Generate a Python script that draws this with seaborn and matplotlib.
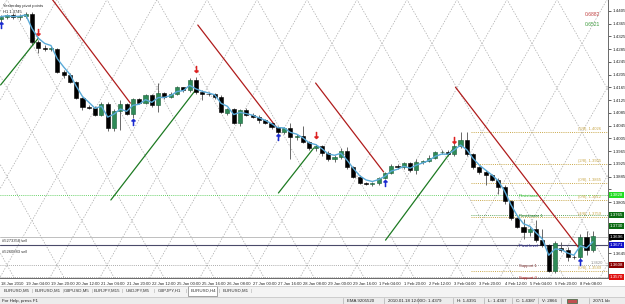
import numpy as np
import pandas as pd
import matplotlib.pyplot as plt
import matplotlib.transforms as mtrans
import seaborn as sns

# EURUSD H4, 18 Jan 2010 12:00 .. 8 Feb 2010 16:00
opens = [1.4379, 1.4387, 1.4392, 1.4385, 1.4390, 1.4396, 1.4308, 1.4290, 1.4287, 1.4285,
         1.4214, 1.4204, 1.4183, 1.4132, 1.4104, 1.4101, 1.4080, 1.4113, 1.4038, 1.4091,
         1.4113, 1.4083, 1.4128, 1.4116, 1.4141, 1.4110, 1.4148, 1.4135, 1.4145, 1.4165,
         1.4158, 1.4188, 1.4150, 1.4145, 1.4143, 1.4136, 1.4085, 1.4097, 1.4054, 1.4094,
         1.4079, 1.4073, 1.4062, 1.4054, 1.4041, 1.4026, 1.4038, 1.4010, 1.4013, 1.3995,
         1.3975, 1.3981, 1.3960, 1.3940, 1.3948, 1.3965, 1.3915, 1.3885, 1.3865, 1.3862,
         1.3865, 1.3882, 1.3897, 1.3919, 1.3914, 1.3927, 1.3906, 1.3931, 1.3935, 1.3944,
         1.3962, 1.3963, 1.3955, 1.3982, 1.4000, 1.3955, 1.3915, 1.3900, 1.3890, 1.3875,
         1.3853, 1.3808, 1.3755, 1.3728, 1.3712, 1.3722, 1.3688, 1.3670, 1.3588, 1.3660,
         1.3655, 1.3634, 1.3632, 1.3697, 1.3655]
highs = [1.4391, 1.4396, 1.4398, 1.4395, 1.4402, 1.4402, 1.4315, 1.4298, 1.4296, 1.4290,
         1.4220, 1.4210, 1.4186, 1.4135, 1.4110, 1.4106, 1.4120, 1.4118, 1.4097, 1.4126,
         1.4117, 1.4133, 1.4133, 1.4145, 1.4145, 1.4179, 1.4152, 1.4150, 1.4170, 1.4168,
         1.4195, 1.4198, 1.4156, 1.4152, 1.4148, 1.4140, 1.4100, 1.4100, 1.4098, 1.4100,
         1.4085, 1.4078, 1.4066, 1.4058, 1.4045, 1.4042, 1.4054, 1.4018, 1.4045, 1.3998,
         1.3987, 1.3985, 1.3965, 1.3952, 1.3975, 1.3978, 1.3920, 1.3890, 1.3870, 1.3870,
         1.3885, 1.3900, 1.3925, 1.3925, 1.3930, 1.3932, 1.3940, 1.3938, 1.3952, 1.3965,
         1.3970, 1.3968, 1.3992, 1.4025, 1.4025, 1.3958, 1.3918, 1.3905, 1.3895, 1.3880,
         1.3858, 1.3812, 1.3760, 1.3752, 1.3730, 1.3750, 1.3720, 1.3675, 1.3682, 1.3680,
         1.3665, 1.3640, 1.3705, 1.3715, 1.3715]
lows = [1.4367, 1.4380, 1.4381, 1.4378, 1.4384, 1.4298, 1.4273, 1.4280, 1.4278, 1.4210,
        1.4195, 1.4178, 1.4128, 1.4095, 1.4096, 1.4074, 1.4076, 1.4030, 1.4029, 1.4032,
        1.4078, 1.4070, 1.4112, 1.4112, 1.4104, 1.4088, 1.4130, 1.4132, 1.4142, 1.4152,
        1.4150, 1.4145, 1.4126, 1.4138, 1.4130, 1.4085, 1.4080, 1.4050, 1.4045, 1.4075,
        1.4068, 1.4055, 1.4050, 1.4035, 1.4010, 1.4020, 1.3941, 1.4000, 1.3990, 1.3970,
        1.3965, 1.3950, 1.3935, 1.3930, 1.3940, 1.3910, 1.3880, 1.3862, 1.3858, 1.3856,
        1.3858, 1.3878, 1.3893, 1.3910, 1.3908, 1.3900, 1.3895, 1.3925, 1.3930, 1.3940,
        1.3955, 1.3950, 1.3950, 1.3975, 1.3950, 1.3910, 1.3895, 1.3860, 1.3872, 1.3830,
        1.3800, 1.3750, 1.3725, 1.3690, 1.3700, 1.3680, 1.3665, 1.3585, 1.3583, 1.3650,
        1.3620, 1.3628, 1.3618, 1.3640, 1.3650]
closes = [1.4387, 1.4392, 1.4385, 1.4390, 1.4396, 1.4308, 1.4290, 1.4287, 1.4290, 1.4214,
          1.4204, 1.4183, 1.4132, 1.4104, 1.4101, 1.4080, 1.4113, 1.4038, 1.4091, 1.4113,
          1.4083, 1.4128, 1.4116, 1.4141, 1.4110, 1.4148, 1.4135, 1.4145, 1.4165, 1.4158,
          1.4188, 1.4150, 1.4145, 1.4143, 1.4136, 1.4088, 1.4097, 1.4054, 1.4094, 1.4079,
          1.4073, 1.4062, 1.4054, 1.4041, 1.4026, 1.4038, 1.4010, 1.4013, 1.3995, 1.3975,
          1.3981, 1.3960, 1.3940, 1.3948, 1.3965, 1.3915, 1.3885, 1.3865, 1.3862, 1.3865,
          1.3882, 1.3897, 1.3919, 1.3914, 1.3927, 1.3906, 1.3931, 1.3935, 1.3944, 1.3962,
          1.3963, 1.3955, 1.3982, 1.4000, 1.3955, 1.3915, 1.3900, 1.3890, 1.3875, 1.3853,
          1.3808, 1.3755, 1.3728, 1.3712, 1.3722, 1.3688, 1.3670, 1.3588, 1.3678, 1.3655,
          1.3634, 1.3632, 1.3697, 1.3655, 1.3700]

time_labels = ["18 Jan 2010", "19 Jan 04:00", "19 Jan 20:00", "20 Jan 12:00", "21 Jan 04:00",
               "21 Jan 20:00", "22 Jan 12:00", "25 Jan 00:00", "25 Jan 16:00", "26 Jan 08:00",
               "27 Jan 00:00", "27 Jan 16:00", "28 Jan 08:00", "29 Jan 00:00", "29 Jan 16:00",
               "1 Feb 04:00", "1 Feb 20:00", "2 Feb 12:00", "3 Feb 04:00", "3 Feb 20:00",
               "4 Feb 12:00", "5 Feb 04:00", "5 Feb 20:00", "8 Feb 08:00"]
price_ticks = [1.4405, 1.4365, 1.4325, 1.4285, 1.4245, 1.4205, 1.4165, 1.4125, 1.4085,
               1.4045, 1.4005, 1.3965, 1.3925, 1.3885, 1.3845, 1.3805, 1.3765, 1.3725,
               1.3685, 1.3645, 1.3605]

# signal arrows
sell_bars = [6, 31, 50, 72]
sell_prices = [1.4339, 1.4223, 1.4016, 1.4000]
buy_bars = [0, 21, 44, 61, 92]
buy_prices = [1.4361, 1.4057, 1.4010, 1.3865, 1.3617]

# trend lines (bar, price) -> (bar, price)
down_lines = [(8.25, 1.4440, 20.6, 1.4116), (31.3, 1.4361, 44.1, 1.4032),
              (50.0, 1.4179, 60.8, 1.3900), (72.2, 1.4166, 91.7, 1.3664)]
up_lines = [(0.0, 1.4173, 6.0, 1.4320), (17.5, 1.3812, 31.3, 1.4166),
            (44.1, 1.3834, 49.7, 1.3975), (61.1, 1.3686, 71.7, 1.3969)]

# level lines
murrey_values = [1.4026, 1.3925, 1.3865, 1.3812, 1.3759, 1.3589]
murrey_names = ["(3/8), 1.4026", "(2/8), 1.3925", "(0/8), 1.3865",
                "(0/8), 1.3812", "(4/8), 1.3759", "(0/8), 1.3589"]
pivot_names = ["Resistance", "Resistance 1", "Pivot level", "Support 1", "Support 2"]
pivot_values = [1.3828, 1.3765, 1.3671, 1.3608, 1.3570]
box_values = [1.3828, 1.3765, 1.3730, 1.3696, 1.3671, 1.3608, 1.3570]
box_colors = ["#22dd22", "#0b6b12", "#0b6b12", "#000000", "#1010c8", "#8b0000", "#e01010"]

tabs = ["EURUSD,M5", "EURUSD,M1", "GBPUSD,M5", "EURJPY,M15", "USDJPY,M5",
        "GBPJPY,H1", "EURUSD,H4", "EURUSD,M1"]
status_items = ["EMA 9205520", "2010.01.18 12:00", "O: 1.4379", "H: 1.4391",
                "L: 1.4367", "C: 1.4387", "V: 2866", "", "207/1 kb"]

sns.set_theme(style="white")
plt.rcParams['font.family'] = ['Liberation Sans', 'DejaVu Sans']
FS = 3.0
FS_UI = 3.2

W, H = 625, 304
CW, CH = 608, 278
PX_PER_PRICE = 3187.0

fig = plt.figure(figsize=(W / 100, H / 100), dpi=100)

# figure chrome in pixel coordinates
bg = fig.add_axes([0, 0, 1, 1], zorder=0)
bg.set_xlim(0, W)
bg.set_ylim(H, 0)
bg.axis('off')

# diagonal dashed lattice behind the chart
grid_ax = fig.add_axes([0, 1 - CH / H, CW / W, CH / H], zorder=1)
grid_ax.set_xlim(0, CW)
grid_ax.set_ylim(CH, 0)
grid_ax.axis('off')
slope = 1.77
for k in range(-12, 26):
    xc = 7 + 50 * k
    xs = np.array([xc - 400, xc + 400])
    for s in (slope, -slope):
        grid_ax.plot(xs, 265 + s * (xs - xc), color='#a8a8a8', lw=0.5,
                     ls=(0, (2, 2)))

ax = fig.add_axes([0, 1 - CH / H, CW / W, CH / H], zorder=2)
ax.set_facecolor('none')

bars = np.arange(len(opens))
o, h, l, c = map(np.array, (opens, highs, lows, closes))
up = c >= o

ax.vlines(bars, l, h, color='#505050', lw=0.6, zorder=3)
body_lo = np.minimum(o, c)
body_h = np.maximum(np.abs(c - o), 0.00006)
ax.bar(bars[up], body_h[up], bottom=body_lo[up], width=0.66, color='#2e8b57',
       edgecolor='#1b5e3a', linewidth=0.4, zorder=4)
ax.bar(bars[~up], body_h[~up], bottom=body_lo[~up], width=0.66, color='black',
       edgecolor='black', linewidth=0.4, zorder=4)

# moving average of closes
ema = pd.Series(closes).ewm(span=3).mean()
sns.lineplot(x=bars, y=ema.values, ax=ax, color='#5aaad8', lw=1.0, zorder=5)

for x0, y0, x1, y1 in down_lines:
    ax.plot([x0, x1], [y0, y1], color='#b01c1c', lw=0.9, zorder=3)
for x0, y0, x1, y1 in up_lines:
    ax.plot([x0, x1], [y0, y1], color='#1d7a22', lw=0.9, zorder=3)

ax.scatter(sell_bars, sell_prices, marker=r'$\downarrow$', s=22, color='#dd2020',
           linewidths=0.6, zorder=6, clip_on=False)
ax.scatter(buy_bars, buy_prices, marker=r'$\uparrow$', s=22, color='#1a2ad0',
           linewidths=0.6, zorder=6, clip_on=False)

xmin = -0.6 / 6.3
xmax = (CW - 0.6) / 6.3
ax.set_xlim(xmin, xmax)
ytop = 1.4405 + 11 / PX_PER_PRICE
ybot = 1.4405 - (CH - 11) / PX_PER_PRICE
ax.set_ylim(ybot, ytop)

# level lines
m_start = 74.6
for v, name in zip(murrey_values, murrey_names):
    ax.hlines(v, m_start, xmax, color='#c9a84a', lw=0.7, ls=(0, (1, 1.2)), zorder=2)
    ax.text(95.3, v + 0.0003, name, color='#c9a84a', fontsize=FS, ha='right',
            va='bottom', zorder=6)

ax.axhline(pivot_values[0], color='#36c236', lw=0.6, ls=(0, (1, 1.5)), zorder=2)
ax.hlines(pivot_values[1], m_start, xmax, color='#2c8a2c', lw=0.6, ls=(0, (1, 1.5)), zorder=2)
ax.axhline(1.3696, color='#b4b4b4', lw=0.6, zorder=2)
ax.axhline(pivot_values[2], color='#4a4a6a', lw=0.8, zorder=2)
ax.axhline(pivot_values[3], color='#909090', lw=0.6, ls=(0, (1, 1.5)), zorder=2)
ax.axhline(pivot_values[4], color='#909090', lw=0.6, ls=(0, (1, 1.5)), zorder=2)
pivot_colors = ['#2fb82f', '#1d7a22', '#22228a', '#7a2a2a', '#c02020']
for name, v, col in zip(pivot_names, pivot_values, pivot_colors):
    ax.text(82.3, v - 0.0002, name, color=col, fontsize=FS, ha='left', va='center',
            zorder=6)
ax.text(93.6, 1.3614, "1.3620", color='#8a8a8a', fontsize=FS, ha='left', va='center',
        zorder=6)

# axes styling (MT4 look)
for side in ('top', 'left'):
    ax.spines[side].set_visible(False)
for side in ('right', 'bottom'):
    ax.spines[side].set_color('#6a6a6a')
    ax.spines[side].set_linewidth(0.7)
ax.yaxis.tick_right()
ax.set_yticks(price_ticks)
# labels hidden behind the coloured price boxes are left blank, as in MT4
tick_text = []
for p in price_ticks:
    hidden = any(abs(p - v) * PX_PER_PRICE < 7 for v in box_values)
    tick_text.append('' if hidden else f"{p:.4f}")
ax.set_yticklabels(tick_text)
ax.set_xticks(bars[::4][:len(time_labels)])
ax.set_xticklabels(time_labels, ha='left')
ax.tick_params(axis='both', labelsize=FS, length=2, width=0.5, pad=1,
               colors='#222222', direction='out')
ax.tick_params(axis='y', labelsize=FS_UI)
ax.set_xlabel('')
ax.set_ylabel('')

yx = mtrans.blended_transform_factory(ax.transAxes, ax.transData)
for v, col in zip(box_values, box_colors):
    ax.text(1.003, v, f"{v:.4f}", transform=yx, fontsize=FS_UI, color='white',
            ha='left', va='center', zorder=7, clip_on=False,
            bbox=dict(boxstyle='square,pad=0.15', fc=col, ec='none'))

# chart overlay texts
bg.text(3, 6, "Yesterday pivot points", fontsize=FS, color='#222222', va='center')
bg.text(3, 12, "H1 1.3745", fontsize=FS, color='#222222', va='center')
bg.text(600, 14, "0.6882", fontsize=FS + 0.6, color='#c04040', ha='right', va='center')
bg.text(600, 24, "0.6521", fontsize=FS + 0.6, color='#3a9a3a', ha='right', va='center')
bg.text(2, 241, "#5273358 sell", fontsize=FS, color='#333333', va='center')
bg.text(2, 252, "#5260883 sell", fontsize=FS, color='#333333', va='center')

# tab strip
bg.add_patch(plt.Rectangle((0, 286), W, 11, fc='#f4f4f4', ec='none'))
bg.plot([0, W], [286, 286], color='#c8c8c8', lw=0.5)
tab_x = [4, 35, 64, 94, 126, 158, 191, 223]
for i, (tx, name) in enumerate(zip(tab_x, tabs)):
    if i == 6:
        bg.add_patch(plt.Rectangle((tx - 3, 286), 29, 10, fc='white', ec='#808080', lw=0.5))
    bg.text(tx, 291, name, fontsize=FS_UI, color='#333333', va='center')
    bg.text(tx + 28, 291, "|", fontsize=FS_UI, color='#999999', va='center')

# status bar
bg.add_patch(plt.Rectangle((0, 297), W, 7, fc='#ececec', ec='none'))
bg.plot([0, W], [297, 297], color='#c0c0c0', lw=0.5)
bg.text(2, 301, "For Help, press F1", fontsize=FS_UI, color='#222222', va='center')
status_x = [347, 388, 422, 457, 488, 516, 542, 565, 593]
for sx, item in zip(status_x, status_items):
    bg.plot([sx - 4, sx - 4], [298, 304], color='#b0b0b0', lw=0.5)
    if item:
        bg.text(sx, 301, item, fontsize=FS_UI, color='#222222', va='center')
bg.add_patch(plt.Rectangle((567, 298.5), 10, 4.5, fc='#c05050', ec='#507050', lw=0.6))

fig.savefig("out.png", dpi=100)
